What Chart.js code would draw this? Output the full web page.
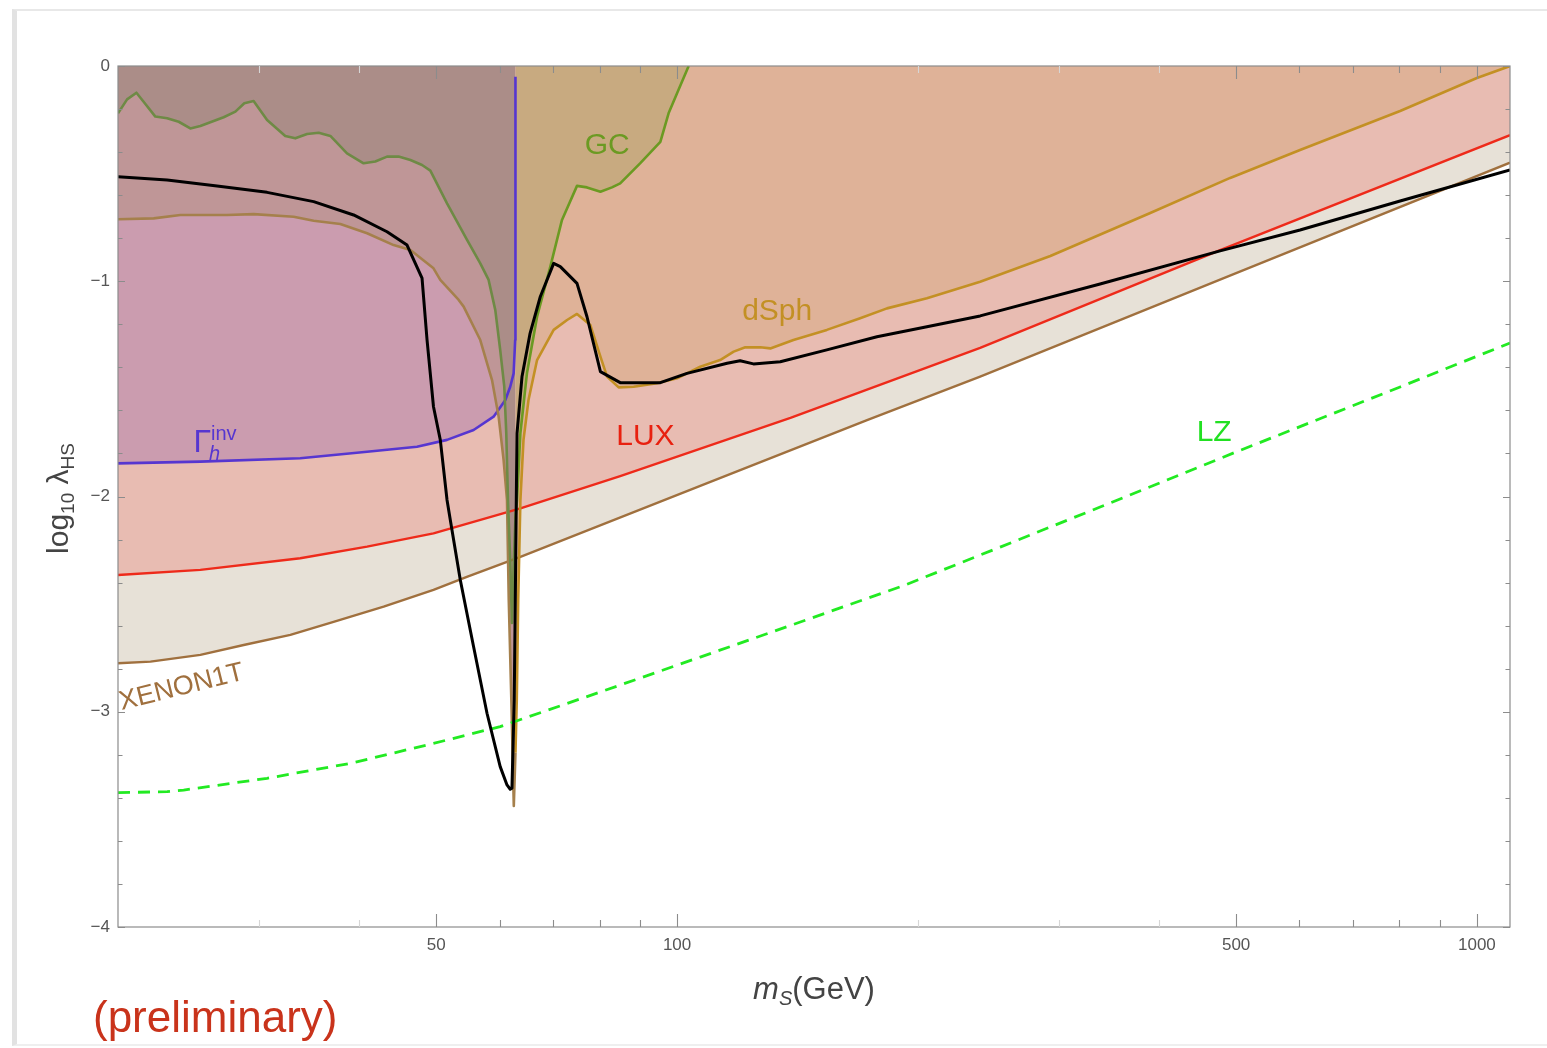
<!DOCTYPE html>
<html>
<head>
<meta charset="utf-8">
<title>Scalar singlet dark matter limits</title>
<script src="https://cdn.jsdelivr.net/npm/chart.js@4.4.1/dist/chart.umd.min.js"></script>
<style>
  html, body { margin: 0; padding: 0; background: #fff; }
  body { width: 1547px; height: 1048px; position: relative; overflow: hidden; font-family: "Liberation Sans", Arial, sans-serif; }
  .slide { position: absolute; left: 12px; top: 9px; right: 0; bottom: 2px; border-left: 5px solid #e2e2e2; border-top: 2px solid #e8e8e8; border-bottom: 2px solid #efefef; }
  #chart { position: absolute; left: 0; top: 0; }
  .note { position: absolute; left: 93px; top: 995px; font-size: 44px; line-height: 44px; color: #c9331b; }
</style>
</head>
<body>
<div class="slide"></div>
<canvas id="chart" width="1547" height="1048"></canvas>
<div class="note">(preliminary)</div>
<script>
/* --------- DATA: [m_S (GeV), log10 lambda_HS] --------- */
const xenon1t = [
  [20, -2.775], [21.96, -2.767], [25.35, -2.736], [28.72, -2.69], [32.85, -2.643],
  [37.2, -2.582], [42.97, -2.512], [49.6, -2.434], [54.6, -2.373], [63.7, -2.28],
  [106.9, -1.951], [172.8, -1.645], [239.3, -1.443], [500, -0.962], [1100, -0.449]
];
const lux = [
  [20, -2.365], [25.35, -2.341], [33.8, -2.287], [40.97, -2.233], [49.6, -2.171],
  [63.7, -2.055], [84.9, -1.905], [138.6, -1.635], [239.3, -1.31], [477.5, -0.855],
  [1100, -0.321]
];
const gammaInv = [
  [20, -1.846], [25.35, -1.838], [33.8, -1.822], [40.97, -1.792], [47.3, -1.769],
  [51.57, -1.737], [55.67, -1.691], [58.97, -1.629], [61.0, -1.552], [61.86, -1.49],
  [62.47, -1.428], [62.75, -1.273], [62.8, -0.62], [62.8, -0.05]
];
const dsph = [
  [20, -0.712], [22.16, -0.708], [23.93, -0.692], [27.37, -0.692], [29.55, -0.688],
  [33.16, -0.7], [35.13, -0.719], [37.93, -0.734], [40.97, -0.777], [44.22, -0.832],
  [46.41, -0.855], [49.6, -0.94], [50.58, -0.994], [53.33, -1.087], [54.1, -1.118],
  [56.75, -1.273], [58.7, -1.459], [59.83, -1.629], [60.69, -1.83], [61.29, -2.016],
  [61.6, -2.481], [62.06, -2.945], [62.5, -3.438], [62.8, -3.19], [63.04, -2.945],
  [63.3, -2.481], [63.7, -2.016], [64.27, -1.737], [65.2, -1.552], [66.83, -1.366],
  [70.1, -1.226], [72.86, -1.18], [74.97, -1.152], [77.9, -1.203], [80.2, -1.35],
  [81.74, -1.443], [84.53, -1.493], [88.25, -1.49], [94.38, -1.474], [100, -1.451],
  [106.9, -1.397], [113.2, -1.366], [117.7, -1.327], [121.7, -1.307], [127.1, -1.307],
  [130.8, -1.312], [139.8, -1.273], [153.9, -1.226], [169.4, -1.172], [183.0, -1.126],
  [205.3, -1.079], [239.3, -1.002], [292.9, -0.883], [390.5, -0.683], [491.5, -0.52],
  [601, -0.39], [801.7, -0.209], [1000, -0.056], [1100, 0]
];
const gc = [
  [20, -0.22], [20.53, -0.155], [21.09, -0.124], [21.53, -0.166], [22.27, -0.235],
  [23.04, -0.243], [23.82, -0.259], [24.63, -0.29], [25.35, -0.279], [27.11, -0.238],
  [28.04, -0.212], [28.77, -0.173], [29.55, -0.163], [30.72, -0.251], [32.37, -0.325],
  [33.32, -0.336], [34.47, -0.316], [35.64, -0.31], [36.86, -0.325], [38.67, -0.406],
  [40.56, -0.452], [41.95, -0.444], [43.39, -0.421], [44.86, -0.421], [46.41, -0.437],
  [47.99, -0.46], [49.15, -0.486], [51.57, -0.638], [54.63, -0.808], [56.75, -0.917],
  [58.13, -0.994], [59.26, -1.134], [60.1, -1.319], [60.81, -1.49], [61.16, -1.705],
  [61.46, -2.016], [61.86, -2.295], [62.17, -2.588], [62.5, -2.3], [62.8, -2.1],
  [63.08, -2.016], [63.7, -1.705], [64.92, -1.426], [66.83, -1.165], [69.43, -0.932],
  [71.8, -0.715], [74.97, -0.557], [77.16, -0.564], [80.2, -0.584], [82.91, -0.564],
  [84.9, -0.545], [89.9, -0.452], [95.3, -0.352], [97.59, -0.22], [100, -0.127],
  [103.4, 0]
];
const relic = [
  [20, -0.514], [23.04, -0.53], [26.6, -0.557], [30.72, -0.587], [35.13, -0.63],
  [39.41, -0.692], [43.39, -0.77], [45.96, -0.832], [47.99, -0.986], [48.69, -1.273],
  [49.6, -1.583], [50.58, -1.737], [51.57, -2.016], [52.06, -2.109], [53.58, -2.388],
  [55.67, -2.698], [57.86, -3.007], [60.1, -3.255], [61.29, -3.34], [61.86, -3.36],
  [62.17, -3.355], [62.58, -2.945], [62.77, -2.481], [62.95, -2.016], [63.08, -1.707],
  [63.99, -1.444], [65.5, -1.242], [67.45, -1.072], [70.1, -0.917], [71.45, -0.932],
  [74.97, -1.01], [77.16, -1.165], [80.2, -1.42], [84.9, -1.471], [95.3, -1.471],
  [102.9, -1.428], [115.5, -1.381], [119.9, -1.369], [124.6, -1.384], [134.6, -1.374],
  [153.9, -1.319], [177.8, -1.258], [205.3, -1.211], [239.3, -1.161], [338, -1.013],
  [477.5, -0.859], [601, -0.762], [801.7, -0.627], [1100, -0.483]
];
const lz = [
  [20, -3.376], [23.04, -3.371], [24.16, -3.364], [30.72, -3.309], [39.04, -3.24],
  [49.6, -3.147], [60.1, -3.069], [80.2, -2.908], [106.9, -2.746], [142.6, -2.583],
  [192.9, -2.411], [253.5, -2.235], [338, -2.049], [500, -1.793], [801.7, -1.491],
  [1100, -1.287]
];

const xTickLabels = [50, 100, 500, 1000];
const xMinorTicks = [60, 70, 80, 90, 600, 700, 800, 900];
const xFaintTicks = [30, 40, 200, 300, 400];
const yTickLabels = [0, -1, -2, -3, -4];
const yMinorTicks = [-0.2, -0.4, -0.6, -0.8, -1.2, -1.4, -1.6, -1.8, -2.2, -2.4, -2.6, -2.8, -3.2, -3.4, -3.6, -3.8];

/* --------- HELPERS --------- */
const FONT = '"Liberation Sans", Arial, sans-serif';
const HIGGS_HALF = 62.8; // left of this the invisible-width region overlays the fills
const pts = arr => arr.map(([m, v]) => ({ x: m, y: v }));
const split = (left, right) => c => (c.p1.parsed.x <= HIGGS_HALF ? left : right);

/* --------- FRAME, TICKS, TEXT --------- */
const decorations = {
  id: "decorations",
  afterDraw(chart) {
    const { ctx, chartArea: a, scales: { x, y } } = chart;
    ctx.save();

    ctx.strokeStyle = "#8c8c8c";
    ctx.lineWidth = 1.2;
    ctx.strokeRect(a.left, a.top, a.right - a.left, a.bottom - a.top);

    const xTick = (v, len, color) => {
      const px = Math.round(x.getPixelForValue(v)) + 0.5;
      ctx.strokeStyle = color;
      ctx.beginPath();
      ctx.moveTo(px, a.bottom); ctx.lineTo(px, a.bottom - len);
      ctx.moveTo(px, a.top); ctx.lineTo(px, a.top + len);
      ctx.stroke();
    };
    const yTick = (v, len) => {
      const py = Math.round(y.getPixelForValue(v)) + 0.5;
      ctx.strokeStyle = "#8c8c8c";
      ctx.beginPath();
      ctx.moveTo(a.left, py); ctx.lineTo(a.left + len, py);
      ctx.moveTo(a.right, py); ctx.lineTo(a.right - len, py);
      ctx.stroke();
    };
    ctx.lineWidth = 1.1;
    xTickLabels.forEach(v => xTick(v, 13, "#8c8c8c"));
    xMinorTicks.forEach(v => xTick(v, 7, "#8c8c8c"));
    xFaintTicks.forEach(v => xTick(v, 7, "#d6d6d6"));
    yTickLabels.forEach(v => yTick(v, 7));
    yMinorTicks.forEach(v => yTick(v, 4.5));

    // curve labels
    ctx.textAlign = "center";
    ctx.textBaseline = "middle";
    ctx.font = `30px ${FONT}`;
    [
      ["GC", 81.8, -0.372, "#6b9a22"],
      ["dSph", 133.4, -1.143, "#c39024"],
      ["LUX", 91.3, -1.724, "#e8200f"],
      ["LZ", 469.4, -1.705, "#22e022"]
    ].forEach(([t, m, v, c]) => {
      ctx.fillStyle = c;
      ctx.fillText(t, x.getPixelForValue(m), y.getPixelForValue(v));
    });

    // Gamma_h^inv
    ctx.textAlign = "left";
    ctx.textBaseline = "alphabetic";
    const gx = x.getPixelForValue(24.85), gy = y.getPixelForValue(-1.793);
    ctx.fillStyle = "#5636d0";
    ctx.font = `32px ${FONT}`;
    ctx.fillText("Γ", gx, gy);
    const gw = ctx.measureText("Γ").width;
    ctx.font = `20px ${FONT}`;
    ctx.fillText("inv", gx + gw, gy - 12);
    ctx.font = `italic 20px ${FONT}`;
    ctx.fillText("h", gx + gw - 2, gy + 8);

    // XENON1T, tilted along the curve
    ctx.save();
    ctx.translate(x.getPixelForValue(20.2), y.getPixelForValue(-2.992));
    ctx.rotate(-14 * Math.PI / 180);
    ctx.fillStyle = "#a0703e";
    ctx.font = `27px ${FONT}`;
    ctx.fillText("XENON1T", 0, 0);
    ctx.restore();

    // y axis title: log10 lambda_HS
    ctx.fillStyle = "#444";
    const yParts = [["log", 30, 0], ["10", 19, 6], [" λ", 30, 0], ["HS", 19, 6]];
    let total = 0;
    yParts.forEach(([t, s]) => { ctx.font = `${s}px ${FONT}`; total += ctx.measureText(t).width; });
    ctx.save();
    ctx.translate(68, (a.top + a.bottom) / 2 + total / 2 + 2);
    ctx.rotate(-Math.PI / 2);
    let off = 0;
    yParts.forEach(([t, s, dy]) => {
      ctx.font = `${s}px ${FONT}`;
      ctx.fillText(t, off, dy);
      off += ctx.measureText(t).width;
    });
    ctx.restore();

    // x axis title: m_S(GeV)
    const xParts = [["m", `italic 31px ${FONT}`, 0], ["S", `italic 20px ${FONT}`, 6], ["(GeV)", `31px ${FONT}`, 0]];
    total = 0;
    xParts.forEach(([t, f]) => { ctx.font = f; total += ctx.measureText(t).width; });
    off = 814 - total / 2;
    xParts.forEach(([t, f, dy]) => {
      ctx.font = f;
      ctx.fillText(t, off, 999 + dy);
      off += ctx.measureText(t).width;
    });

    ctx.restore();
  }
};

/* --------- CHART --------- */
const tickFont = { family: FONT, size: 17 };

new Chart(document.getElementById("chart"), {
  type: "line",
  data: {
    datasets: [
      { data: pts(relic), borderColor: "#000", borderWidth: 3, fill: false, order: 1 },
      { data: pts(lz), borderColor: "#22ea22", borderWidth: 2.8, borderDash: [12, 8], fill: false, order: 2 },
      {
        data: pts(gc), borderColor: "#6b9a22", borderWidth: 2.6, fill: "end", backgroundColor: "#c8aa80",
        segment: { borderColor: split("#6e8a45", "#6b9a22"), backgroundColor: split("#ab8d88", "#c8aa80") },
        order: 3
      },
      {
        data: pts(dsph), borderColor: "#c39024", borderWidth: 2.6, fill: "end", backgroundColor: "#dfb298",
        segment: { borderColor: split("#a5804c", "#c39024"), backgroundColor: split("#bf9697", "#dfb298") },
        order: 4
      },
      { data: pts(gammaInv), borderColor: "#5636d0", borderWidth: 2.6, fill: "end", backgroundColor: "#cb9caf", order: 5 },
      { data: pts(lux), borderColor: "#ee2a1a", borderWidth: 2.4, fill: "end", backgroundColor: "#e8bcb2", order: 6 },
      { data: pts(xenon1t), borderColor: "#a0703e", borderWidth: 2.4, fill: "end", backgroundColor: "#e7e1d7", order: 7 }
    ]
  },
  options: {
    responsive: false,
    animation: false,
    layout: { padding: { top: 66, right: 37, bottom: 0, left: 0 } },
    elements: { point: { radius: 0 }, line: { tension: 0, borderJoinStyle: "round" } },
    plugins: {
      legend: { display: false },
      tooltip: { enabled: false },
      filler: { drawTime: "beforeDatasetsDraw" }
    },
    scales: {
      x: {
        type: "logarithmic", min: 20, max: 1100, bounds: "data",
        grid: { display: false, drawTicks: false }, border: { display: false },
        afterFit: s => { s.height = 121; },
        afterBuildTicks: s => { s.ticks = xTickLabels.map(v => ({ value: v })); },
        ticks: { padding: 8, color: "#555", font: tickFont, autoSkip: false, maxRotation: 0, callback: v => String(v) }
      },
      y: {
        type: "linear", min: -4, max: 0, bounds: "data",
        grid: { display: false, drawTicks: false }, border: { display: false },
        afterFit: s => { s.width = 118; },
        afterBuildTicks: s => { s.ticks = yTickLabels.map(v => ({ value: v })); },
        ticks: { padding: 8, color: "#555", font: tickFont, callback: v => (v === 0 ? "0" : "\u2212" + Math.abs(v)) }
      }
    }
  },
  plugins: [decorations]
});
</script>
</body>
</html>
